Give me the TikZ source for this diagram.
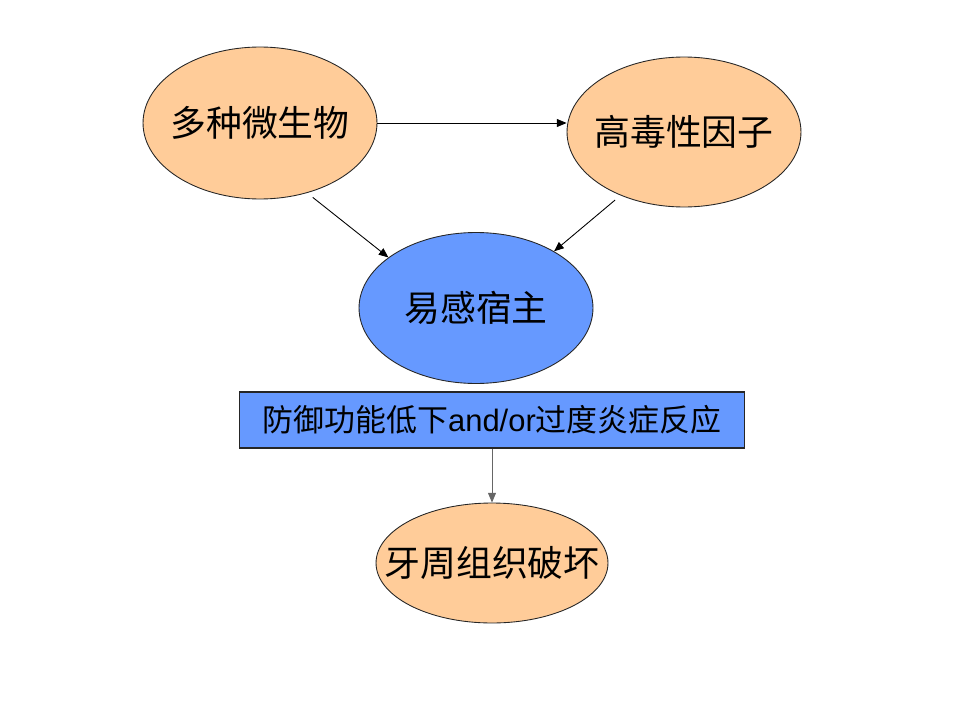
\documentclass[tikz,border=0pt]{standalone}
\usepackage{fontspec}
\setmainfont{Liberation Sans}
\newfontfamily\cjk{Noto Sans CJK SC}
\usetikzlibrary{shapes.geometric,arrows.meta}
\definecolor{peach}{HTML}{FFCC99}
\definecolor{hostblue}{HTML}{6699FF}
% text that does not widen the ellipse round it
\newcommand{\ovaltext}[1]{\makebox[0pt][c]{#1}}
\tikzset{
  oval/.style={ellipse, draw=black!85, line width=.5pt, fill=peach, inner sep=0pt,
    minimum width=4.68cm, font=\cjk\fontsize{20.4}{24}\selectfont},
  hostoval/.style={oval, fill=hostblue},
  factbox/.style={rectangle, draw=black!85, line width=.6pt, fill=hostblue, inner sep=0pt,
    minimum width=10.1cm, minimum height=1.12cm, font=\fontsize{17.6}{21}\selectfont},
  link/.style={-{Triangle[length=5.5pt,width=4.5pt]}, line width=.5pt}
}

\begin{document}
\begin{tikzpicture}[x=0.02cm, y=-0.02cm]
  \useasboundingbox (0,0) rectangle (960,720);
  \node[oval, minimum height=3.04cm] (micro) at (260,123) {\ovaltext{多种微生物}};
  \node[oval, minimum height=3.0cm] (toxin) at (684,132) {\ovaltext{高毒性因子}};
  \node[hostoval, minimum height=3.02cm] (host) at (476,308) {\ovaltext{易感宿主}};
  \node[factbox] (defence) at (492,420)
    {{\cjk 防御功能低下}and/or{\cjk 过度炎症反应}};
  \node[oval, minimum width=4.64cm, minimum height=2.4cm] (damage) at (492,563)
    {\ovaltext{牙周组织破坏}};
  % arrows
  \draw[link] (micro.east) -- (micro.east -| toxin.west);
  \draw[link, shorten <=4pt] (micro.-56) -- (host.150);
  \draw[link, shorten <=4pt] (toxin.225) -- (host.36);
  \draw[link, draw=black!60] (defence.south) -- (damage.north);
\end{tikzpicture}
\end{document}
